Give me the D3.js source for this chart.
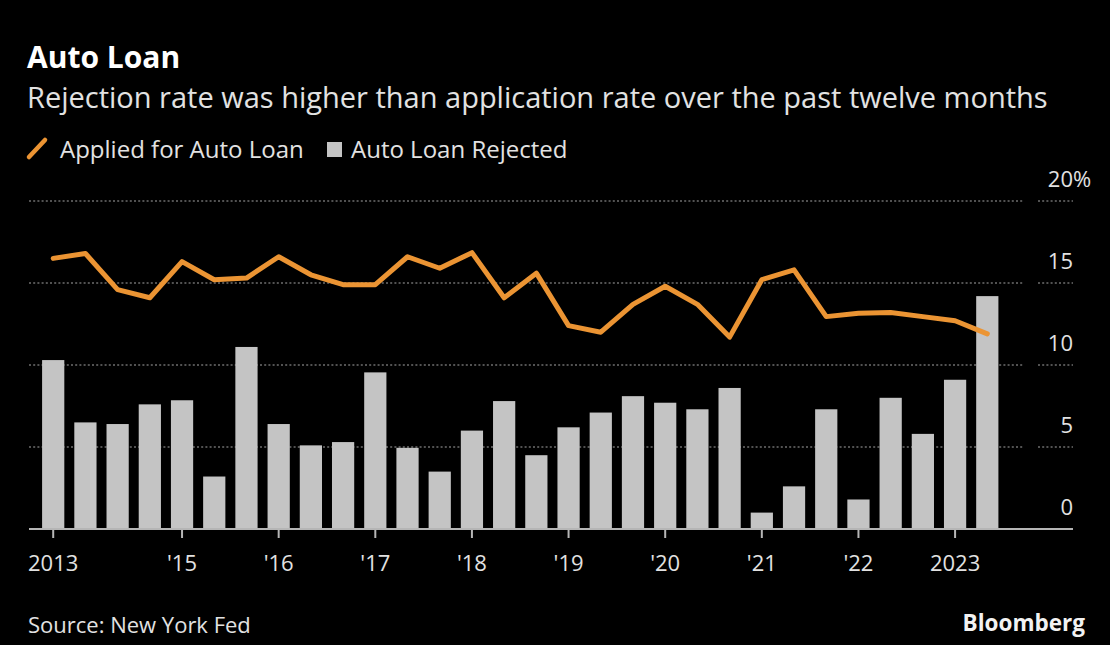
<!DOCTYPE html>
<html>
<head>
<meta charset="utf-8">
<script src="https://cdn.jsdelivr.net/npm/d3@7"></script>
<style>
  html, body { margin: 0; padding: 0; background: #000; }
  svg { display: block; }
  text { font-family: "Open Sans", "Noto Sans", sans-serif; }
</style>
</head>
<body>
<svg id="chart" width="1110" height="645"></svg>
<script>
// Survey waves of the NY Fed SCE Credit Access Survey (every four months)
const surveys = [
  "Oct 2013",
  "Feb 2014", "Jun 2014", "Oct 2014",
  "Feb 2015", "Jun 2015", "Oct 2015",
  "Feb 2016", "Jun 2016", "Oct 2016",
  "Feb 2017", "Jun 2017", "Oct 2017",
  "Feb 2018", "Jun 2018", "Oct 2018",
  "Feb 2019", "Jun 2019", "Oct 2019",
  "Feb 2020", "Jun 2020", "Oct 2020",
  "Feb 2021", "Jun 2021", "Oct 2021",
  "Feb 2022", "Jun 2022", "Oct 2022",
  "Feb 2023", "Jun 2023"
];

// Share who applied for an auto loan over the past twelve months (%)
const applied = [
  16.5,
  16.8, 14.6, 14.1,
  16.3, 15.2, 15.3,
  16.6, 15.5, 14.9,
  14.9, 16.6, 15.9,
  16.85, 14.1, 15.6,
  12.4, 12.0, 13.7,
  14.8, 13.7, 11.7,
  15.2, 15.8, 12.95,
  13.15, 13.2, 12.95,
  12.7, 11.9
];

// Share of auto loan applications rejected (%)
const rejected = [
  10.3,
  6.5, 6.4, 7.6,
  7.85, 3.2, 11.1,
  6.4, 5.1, 5.3,
  9.55, 4.95, 3.5,
  6.0, 7.8, 4.5,
  6.2, 7.1, 8.1,
  7.7, 7.3, 8.6,
  1.0, 2.6, 7.3,
  1.8, 8.0, 5.8,
  9.1, 14.2
];

// Year labels placed on the first survey of each year
const tickSurveys = ["Oct 2013", "Feb 2015", "Feb 2016", "Feb 2017", "Feb 2018",
                     "Feb 2019", "Feb 2020", "Feb 2021", "Feb 2022", "Feb 2023"];
const tickLabels  = ["2013", "'15", "'16", "'17", "'18",
                     "'19", "'20", "'21", "'22", "2023"];

const yTicks = [0, 5, 10, 15, 20];

const title = "Auto Loan";
const subtitle = "Rejection rate was higher than application rate over the past twelve months";
const legendLine = "Applied for Auto Loan";
const legendBar = "Auto Loan Rejected";
const source = "Source: New York Fed";
const brand = "Bloomberg";

const ORANGE = "#eb9433";
const BAR = "#c4c4c4";
const GRID = "#6e6e6e";
const TEXT = "#e2e2e2";

const svg = d3.select("#chart");
svg.append("rect").attr("width", 1110).attr("height", 645).attr("fill", "#000");

const x = d3.scaleBand()
  .domain(surveys)
  .range([37.1, 1003.4])
  .paddingInner(0.31)
  .paddingOuter(0.155);

const y = d3.scaleLinear().domain([0, 20]).range([529, 201]);

const plotLeft = 29, plotRight = 1023, labelLeft = 1038, labelRight = 1073;

// Dotted horizontal gridlines (zero line drawn solid later)
const grid = svg.append("g");
yTicks.filter(d => d > 0).forEach(v => {
  [[plotLeft, plotRight], [labelLeft, labelRight]].forEach(([a, b]) => {
    grid.append("line")
      .attr("x1", a).attr("x2", b)
      .attr("y1", y(v)).attr("y2", y(v))
      .attr("stroke", GRID)
      .attr("stroke-width", 1.6)
      .attr("stroke-dasharray", "2,2.2");
  });
});

// Rejection bars
svg.append("g").selectAll("rect")
  .data(surveys)
  .join("rect")
  .attr("x", d => x(d))
  .attr("width", x.bandwidth())
  .attr("y", (d, i) => y(rejected[i]))
  .attr("height", (d, i) => y(0) - y(rejected[i]))
  .attr("fill", BAR);

// Baseline and x-axis ticks
svg.append("line")
  .attr("x1", plotLeft).attr("x2", labelRight)
  .attr("y1", y(0)).attr("y2", y(0))
  .attr("stroke", "#b5b5b5").attr("stroke-width", 2);

const cx = d => x(d) + x.bandwidth() / 2;

const xAxis = svg.append("g");
tickSurveys.forEach((s, i) => {
  xAxis.append("line")
    .attr("x1", cx(s)).attr("x2", cx(s))
    .attr("y1", y(0)).attr("y2", y(0) + 9)
    .attr("stroke", "#b5b5b5").attr("stroke-width", 2);
  xAxis.append("text")
    .attr("x", cx(s)).attr("y", 571)
    .attr("text-anchor", "middle")
    .attr("font-size", 22)
    .attr("fill", TEXT)
    .text(tickLabels[i]);
});

// Application-rate line
const line = d3.line()
  .x((d, i) => cx(surveys[i]))
  .y(d => y(d));

svg.append("path")
  .datum(applied)
  .attr("d", line)
  .attr("fill", "none")
  .attr("stroke", ORANGE)
  .attr("stroke-width", 5)
  .attr("stroke-linejoin", "round")
  .attr("stroke-linecap", "round");

// Right-hand value labels
const yAxis = svg.append("g");
yTicks.forEach(v => {
  yAxis.append("text")
    .attr("x", labelRight).attr("y", y(v) - 14)
    .attr("text-anchor", "end")
    .attr("font-size", 22)
    .attr("fill", TEXT)
    .text(v);
  if (v === 20) {
    yAxis.append("text")
      .attr("x", labelRight).attr("y", y(v) - 14)
      .attr("font-size", 22)
      .attr("fill", TEXT)
      .text("%");
  }
});

// Headline
svg.append("text")
  .attr("x", 27).attr("y", 68)
  .attr("font-size", 30).attr("font-weight", 700)
  .attr("fill", "#ffffff")
  .text(title);

svg.append("text")
  .attr("x", 27).attr("y", 108)
  .attr("font-size", 29)
  .attr("fill", TEXT)
  .text(subtitle);

// Legend
svg.append("line")
  .attr("x1", 29).attr("y1", 157)
  .attr("x2", 45).attr("y2", 140)
  .attr("stroke", ORANGE).attr("stroke-width", 4.5)
  .attr("stroke-linecap", "round");
svg.append("text")
  .attr("x", 60).attr("y", 158)
  .attr("font-size", 24).attr("fill", TEXT)
  .text(legendLine);
svg.append("rect")
  .attr("x", 327).attr("y", 142)
  .attr("width", 15).attr("height", 15)
  .attr("fill", BAR);
svg.append("text")
  .attr("x", 351).attr("y", 158)
  .attr("font-size", 24).attr("fill", TEXT)
  .text(legendBar);

// Footer
svg.append("text")
  .attr("x", 28).attr("y", 633)
  .attr("font-size", 22).attr("fill", TEXT)
  .text(source);
svg.append("text")
  .attr("x", 1085).attr("y", 631)
  .attr("text-anchor", "end")
  .attr("font-size", 22.5).attr("font-weight", 700)
  .attr("fill", "#f2f2f2")
  .text(brand);
</script>
</body>
</html>
